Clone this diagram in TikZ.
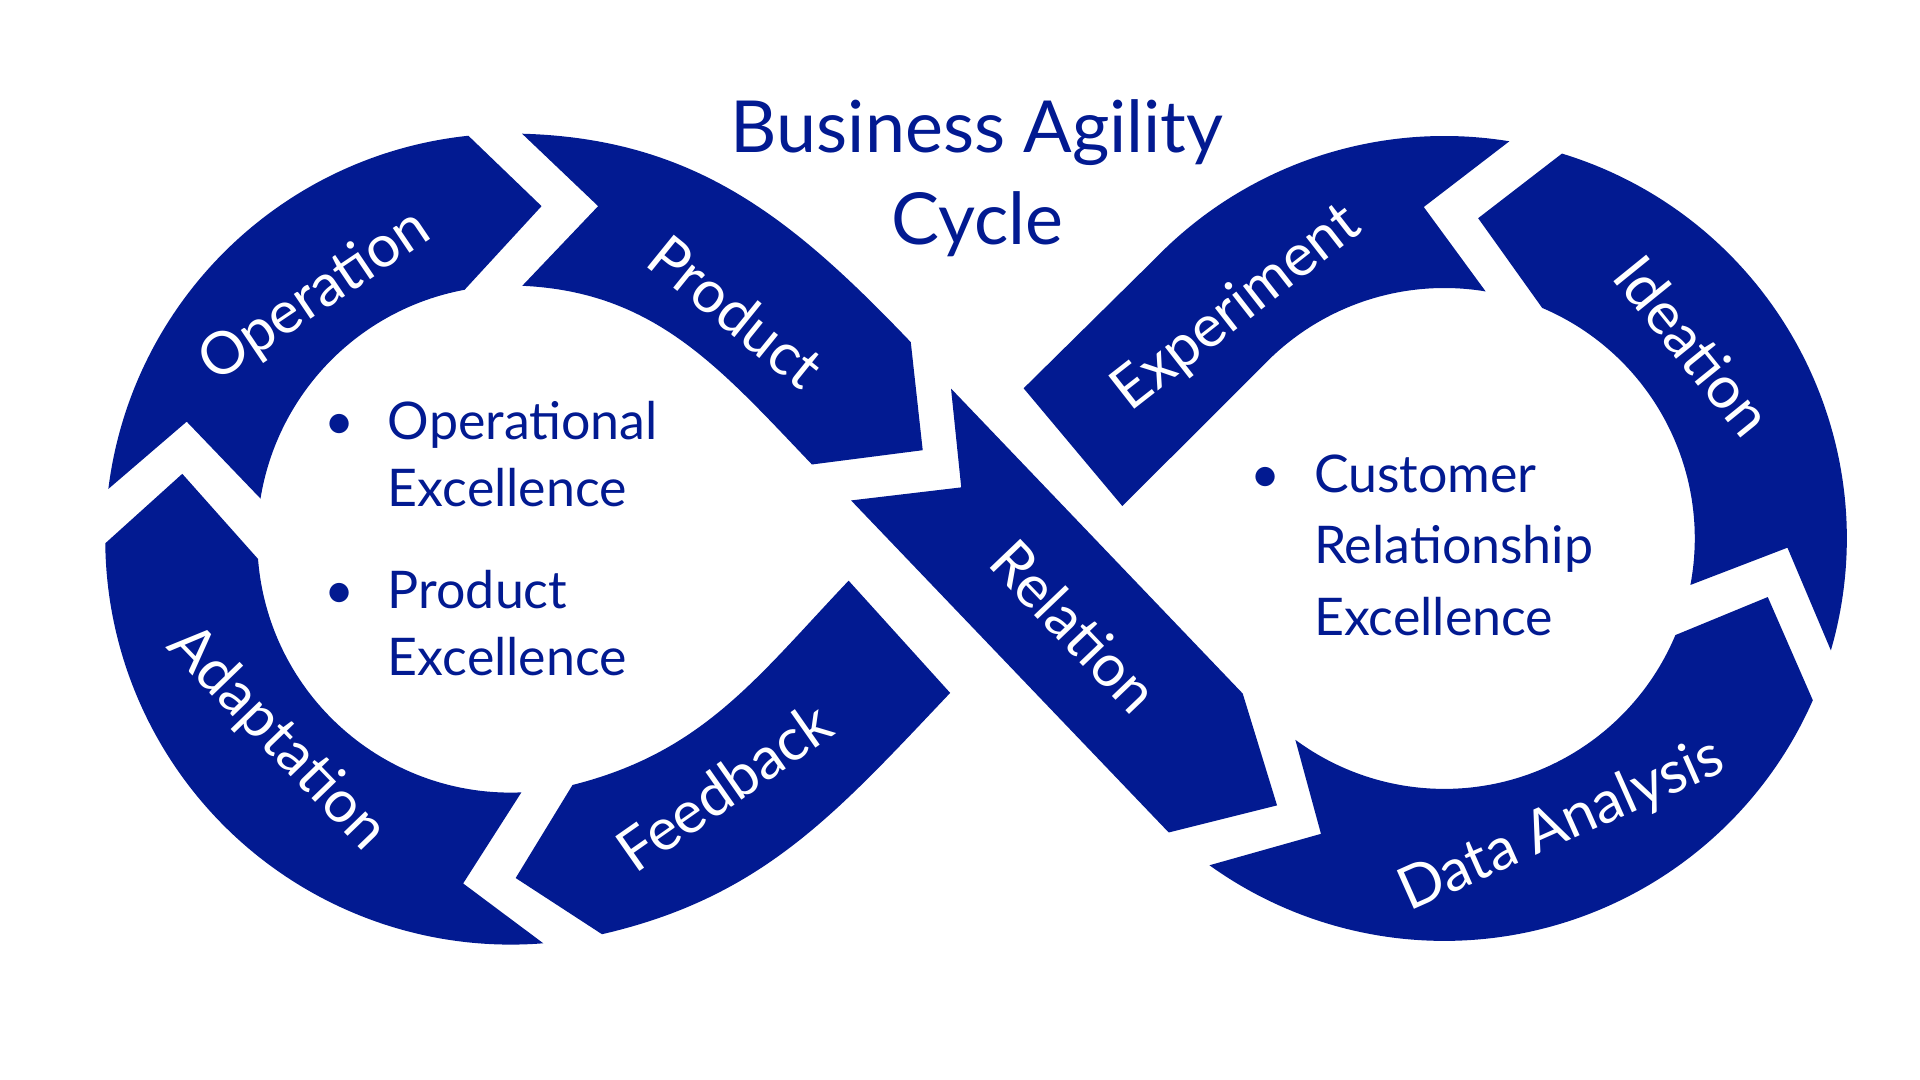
\documentclass[tikz,border=0pt]{standalone}
\usepackage{fontspec}
\setmainfont{Lato}
\usepackage{tikz}
\usetikzlibrary{calc}
\definecolor{agileblue}{RGB}{2,26,145}

\begin{document}
\begin{tikzpicture}[
    x=0.1mm, y=0.1mm, yscale=-1,
    band/.style={fill=agileblue, draw=none},
    tag/.style={text=white, font=\fontsize{13.6}{16}\selectfont, inner sep=0pt},
    point/.style={text=agileblue, font=\fontsize{12}{14}\selectfont, anchor=base west, inner sep=0pt},
    headline/.style={text=agileblue, font=\fontsize{16.6}{20}\selectfont, anchor=base, inner sep=0pt}
]
    % Canvas
    \fill[white] (0,0) rectangle (1560,877.5);
    \useasboundingbox (0,0) rectangle (1560,877.5);

    % Centres of the two loops
    \coordinate (CL) at (415,438);
    \coordinate (CR) at (1173.5,437.5);

    % Left loop
    \fill[band] ($(CL)+(187.1:329.5)$) arc[start angle=187.1, end angle=264, radius=329.5]
        -- (440,167.5) -- ($(CL)+(259.5:206)$) arc[start angle=259.5, end angle=189.2, radius=206]
        -- (151.7,342.6) -- cycle;
    \fill[band] ($(CL)+(271.6:329.5)$) to[out=1.6, in=226.3] (740,278)
        -- (749.7,365.8) -- (659.7,377.4) to[out=226.3, in=2.6] ($(CL)+(272.6:206)$)
        -- (486,167.5) -- cycle;
    \fill[band] (772,563) to[out=133.5, in=-13] ($(CL)+(77:329.5)$)
        -- (419,713.4) -- ($(CL)+(75.9:206)$) to[out=-14.1, in=133.5] (689.5,471.8)
        -- cycle;
    \fill[band] ($(CL)+(179.4:329.5)$) -- (148.1,385)
        -- ($(CL)+(175.5:206)$) arc[start angle=175.5, end angle=87.6, radius=206]
        -- (376.3,717.8) -- ($(CL)+(85.4:329.5)$) arc[start angle=85.4, end angle=179.4, radius=329.5]
        -- cycle;

    % Crossing band
    \fill[band] (772.7,315.7) -- (1009.7,563.5) -- (1037.6,654.4) -- (949.6,676.4)
        -- (691.5,406.6) -- (781,396) -- cycle;

    % Right loop
    \fill[band] ($(CR)+(125.7:327)$) -- (1073.3,677.5)
        -- ($(CR)+(126.5:203.5)$) arc[start angle=126.5, end angle=22.7, radius=203.5]
        -- (1436.3,485.1) -- ($(CR)+(23.7:327)$) arc[start angle=23.7, end angle=125.7, radius=327]
        -- cycle;
    \fill[band] ($(CR)+(16.15:327)$) -- (1452.3,445)
        -- ($(CR)+(10.7:203.5)$) arc[start angle=10.7, end angle=-67, radius=203.5]
        -- (1201,177.3) -- ($(CR)+(-73:327)$) arc[start angle=-73, end angle=16.15, radius=327]
        -- cycle;
    \fill[band] (831.7,315.5) -- ($(CR)+(-136:327)$) arc[start angle=-136, end angle=-80.7, radius=327]
        -- (1156.8,168.2) -- ($(CR)+(-80.5:203.5)$) arc[start angle=-80.5, end angle=-136, radius=203.5]
        -- (911.9,411.2) -- cycle;

    % Band labels
    \node[tag, rotate=34] (operation) at (256,241) {Operation};
    \node[tag, rotate=-39] (product) at (598,253) {Product};
    \node[tag, rotate=-46.3] (relation) at (873,509) {Relation};
    \node[tag, rotate=38] (experiment) at (1005,251) {Experiment};
    \node[tag, rotate=-51] (ideation) at (1376,281) {Ideation};
    \node[tag, rotate=24] (analysis) at (1269,671) {Data Analysis};
    \node[tag, rotate=35] (feedback) at (588,639) {Feedback};
    \node[tag, rotate=-46] (adaptation) at (225,600) {Adaptation};

    % Title
    \node[headline] (title) at (794,124.3) {Business Agility};
    \node[headline] (cycle) at (794,199) {Cycle};

    % Left loop points
    \node[point, anchor=base] (dotA) at (276,357.3) {\textbullet};
    \node[point] (opA) at (314.5,357.3) {Operational};
    \node[point] (opB) at (314.5,411.7) {Excellence};
    \node[point, anchor=base] (dotB) at (276,494.1) {\textbullet};
    \node[point] (prA) at (314.5,494.1) {Product};
    \node[point] (prB) at (314.5,548.5) {Excellence};

    % Right loop points
    \node[point, anchor=base] (dotC) at (1028,399.8) {\textbullet};
    \node[point] (cuA) at (1067,399.8) {Customer};
    \node[point] (cuB) at (1067,457.7) {Relationship};
    \node[point] (cuC) at (1067,516) {Excellence};
\end{tikzpicture}
\end{document}
